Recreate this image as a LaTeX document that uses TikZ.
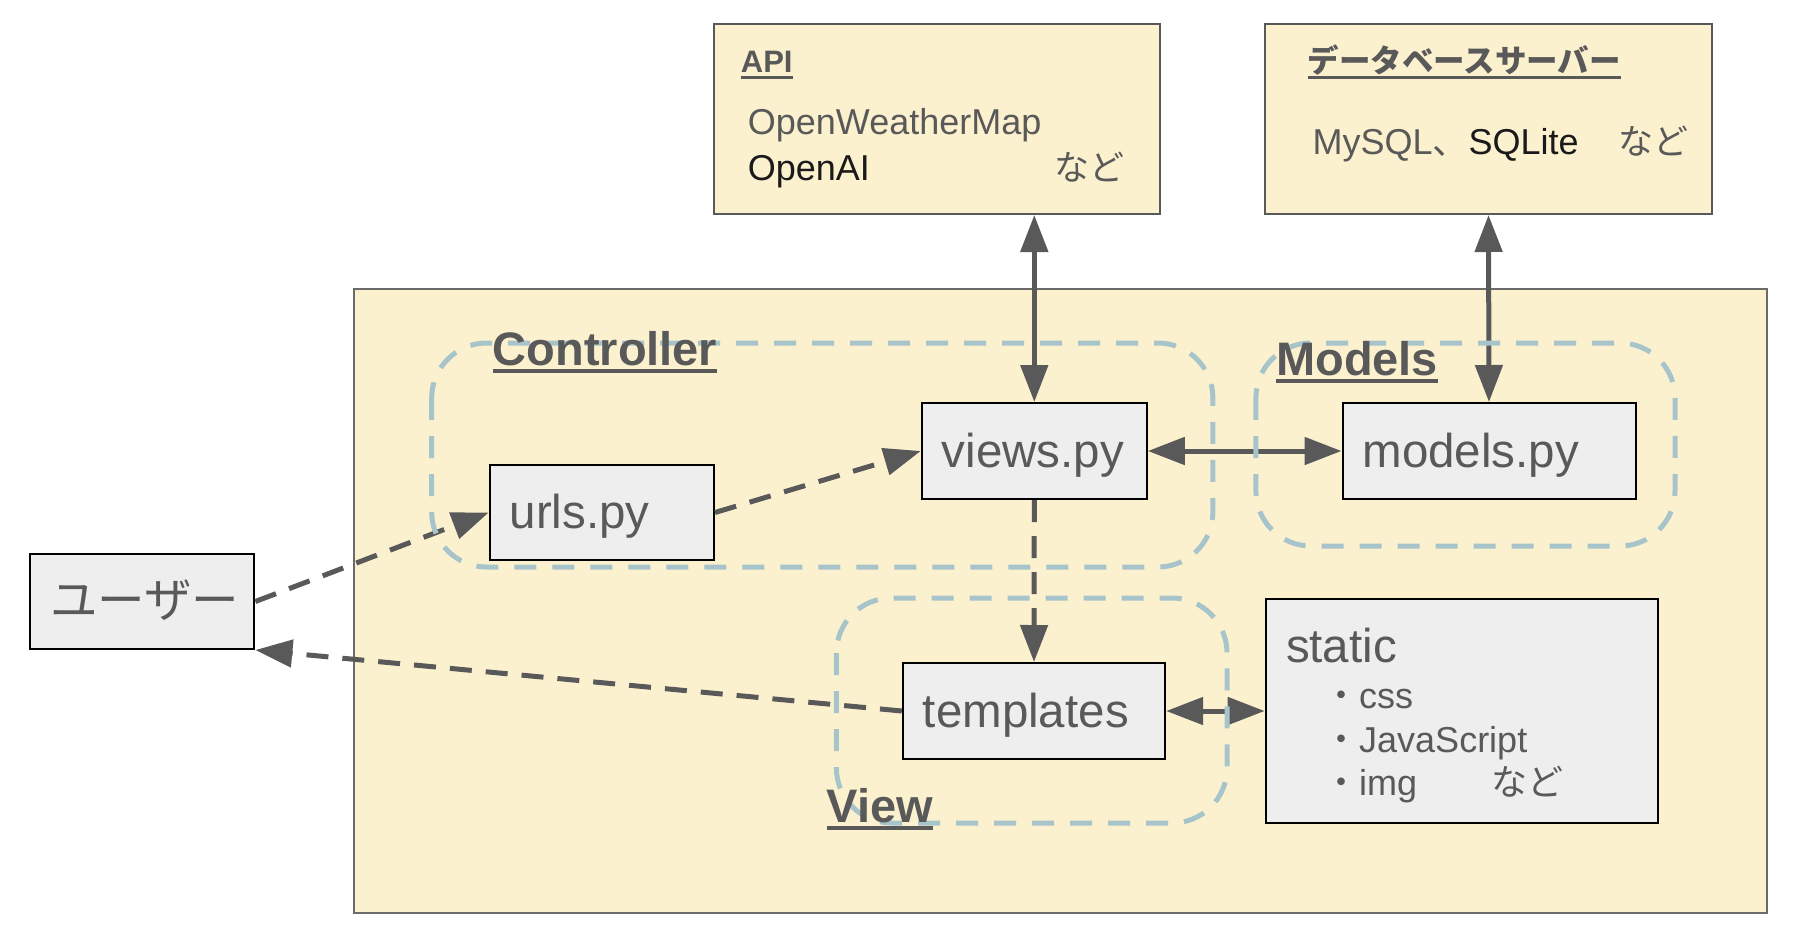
\documentclass[tikz,border=0pt]{standalone}
\usepackage{fontspec}
\setmainfont{Liberation Sans}
\newfontfamily\jp{Noto Sans CJK JP}
\usetikzlibrary{arrows.meta}
\definecolor{ylw}{HTML}{FCF1CF}
\definecolor{gryfill}{HTML}{EEEEEE}
\definecolor{dk}{HTML}{595959}
\definecolor{blu}{HTML}{A7C4CB}
\definecolor{obord}{HTML}{6B6B6B}
\definecolor{blk}{HTML}{1A1A1A}
\tikzset{
  gbox/.style={draw=black, line width=2pt, fill=gryfill, inner xsep=20pt, inner ysep=0pt,
    align=left, text=dk, font=\fontsize{47.5}{52}\selectfont, text height=34pt, text depth=2pt},
  ybox/.style={draw=dk, line width=2pt, fill=ylw, inner sep=0pt},
  grp/.style={draw=blu, line width=5pt, dash pattern=on 22pt off 16pt, rounded corners=55pt},
  solidarrow/.style={draw=dk, line width=5pt,
    {Triangle[length=37pt,width=27pt]}-{Triangle[length=37pt,width=27pt]}},
  dasharrow/.style={draw=dk, line width=5pt, dash pattern=on 22pt off 14pt,
    -{Triangle[length=37pt,width=27pt]}},
  lbl/.style={inner sep=0pt, anchor=base west, text=dk},
  grouplbl/.style={lbl, font=\bfseries\fontsize{47}{52}\selectfont},
  uline/.style={draw=dk, line width=4pt},
}
\begin{document}
\begin{tikzpicture}[x=1pt,y=-1pt]
\fill[white] (0,0) rectangle (1800,938);
\useasboundingbox (0,0) rectangle (1800,938);

% outer application box
\draw[obord, line width=1.5pt, fill=ylw] (354,289) rectangle (1767,913);

% external boxes
\node[ybox, minimum width=445.5pt, minimum height=190pt] (api) at (936.8,119) {};
\node[ybox, minimum width=447pt, minimum height=190pt] (db) at (1488.5,119) {};

\node[lbl, font=\bfseries\fontsize{31}{36}\selectfont] (apilbl) at (740.7,72) {API};
\draw[dk, line width=3pt] ([yshift=-5pt]apilbl.base west) -- ([yshift=-5pt]apilbl.base east);
\node[lbl, font=\fontsize{36}{40}\selectfont] (owm) at (747.7,134) {OpenWeatherMap};
\node[lbl, text=blk, font=\fontsize{36}{40}\selectfont] (oai) at (747.7,180) {OpenAI};
\node[lbl, font=\jp\fontsize{35}{40}\selectfont] (apietc) at (1054,180) {など};

\node[lbl, font=\jp\bfseries\fontsize{31.5}{36}\selectfont] (dblbl) at (1307.5,72) {データベースサーバー};
\draw[dk, line width=3pt] ([yshift=-5pt]dblbl.base west) -- ([yshift=-5pt]dblbl.base east);
\node[lbl, font=\fontsize{36}{40}\selectfont] (dbs) at (1312.4,154) {MySQL{\jp 、}\textcolor{blk}{SQLite}};
\node[lbl, font=\jp\fontsize{35}{40}\selectfont] (dbetc) at (1618,154) {など};

% component nodes
\node[gbox, minimum width=224pt, text width=184pt, minimum height=95pt] (user) at (142.4,601.5) {\jp ユーザー};
\node[gbox, minimum width=224.3pt, text width=184.3pt, minimum height=95pt] (urls) at (601.9,512.5) {urls.py};
\node[gbox, minimum width=225pt, text width=185pt, minimum height=96pt] (views) at (1034.3,451) {views.py};
\node[gbox, minimum width=293pt, text width=253pt, minimum height=96pt] (models) at (1489,451) {models.py};
\node[gbox, minimum width=262.3pt, text width=222.3pt, minimum height=96pt] (templates) at (1034,711) {templates};
\node[gbox, minimum width=392pt, text width=352pt, minimum height=224pt] (static) at (1461.7,711) {};

\node[lbl, font=\fontsize{47.5}{52}\selectfont] (stattl) at (1285.8,662) {static};
\node[lbl, font=\fontsize{36}{40}\selectfont] (css) at (1323,708) {{\jp ・}css};
\node[lbl, font=\fontsize{36}{40}\selectfont] (js) at (1323,752) {{\jp ・}JavaScript};
\node[lbl, font=\fontsize{36}{40}\selectfont] (img) at (1323,795) {{\jp ・}img};
\node[lbl, font=\jp\fontsize{36}{40}\selectfont] (statetc) at (1491,795) {など};

% connectors
\draw[dasharrow] (user.east) -- (urls.west);
\draw[dasharrow] (urls.east) -- (views.west);
\draw[solidarrow] (views.east) -- (models.west);
\draw[solidarrow] (views.north |- api.south) -- (views.north);
\draw[solidarrow] (db.south) -- (models.north);
\draw[dasharrow] (views.south) -- (templates.north);
\draw[solidarrow] (templates.east) -- (static.west);
\draw[dasharrow] (templates.west) -- (user.south east);

% group outlines
\draw[grp] (431.7,343) rectangle (1212.9,567);
\draw[grp] (1255.9,343) rectangle (1675,546);
\draw[grp] (836.4,598) rectangle (1227,823);

% group labels
\node[grouplbl] (ctrl) at (492.5,365) {Controller};
\draw[uline] ([yshift=-6pt]ctrl.base west) -- ([yshift=-6pt]ctrl.base east);
\node[grouplbl] (mdl) at (1276,375) {Models};
\draw[uline] ([yshift=-6pt]mdl.base west) -- ([yshift=-6pt]mdl.base east);
\node[grouplbl] (vw) at (826.6,822) {View};
\draw[uline] ([yshift=-6pt]vw.base west) -- ([yshift=-6pt]vw.base east);
\end{tikzpicture}
\end{document}
